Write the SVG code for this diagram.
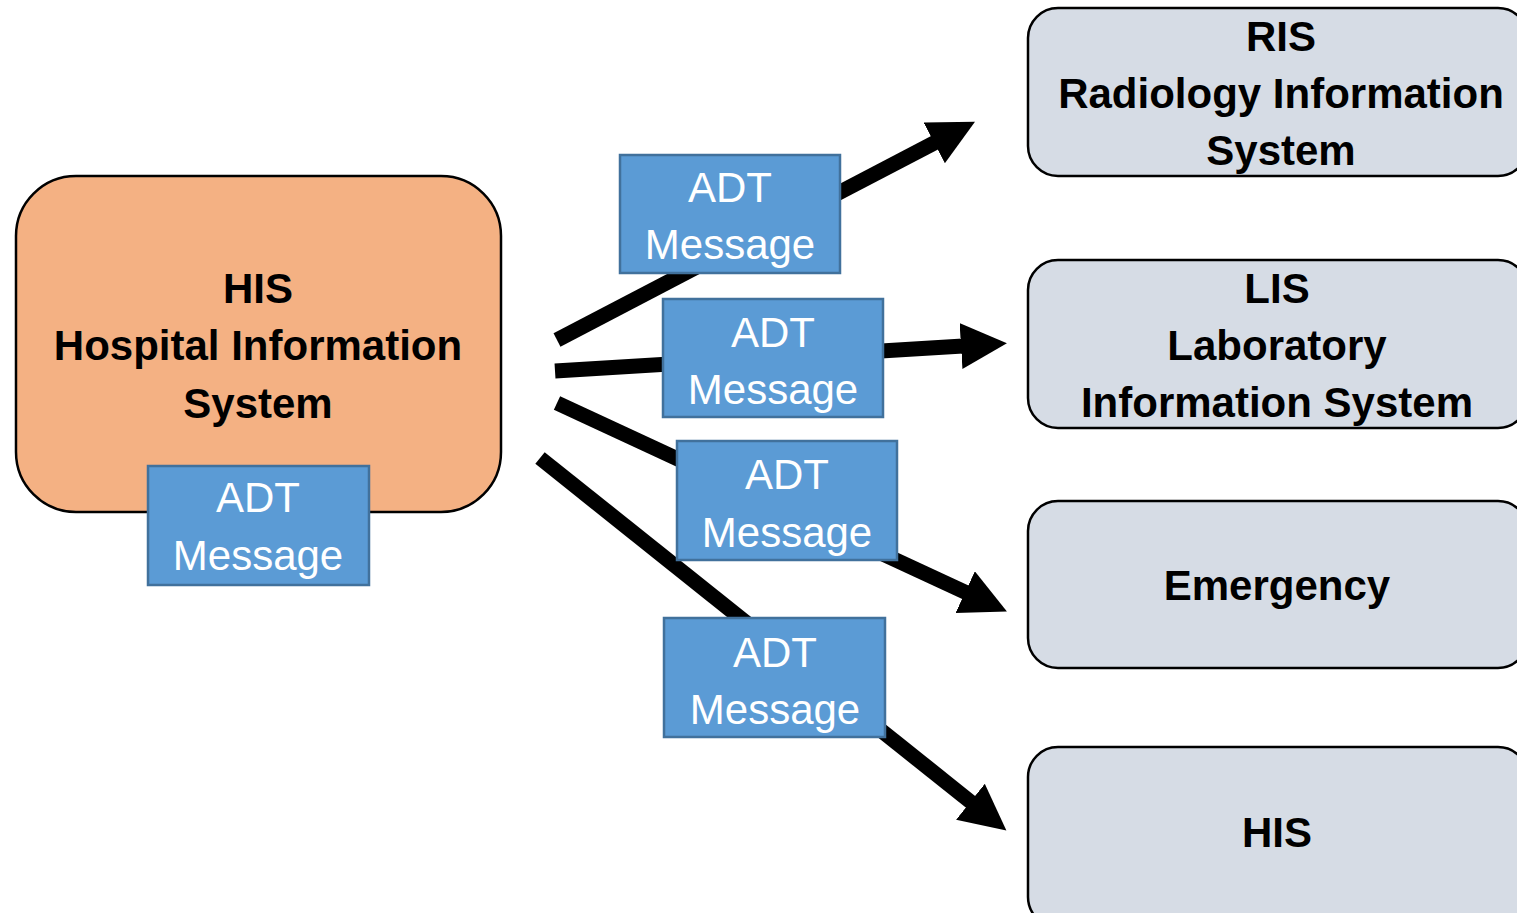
<svg xmlns="http://www.w3.org/2000/svg" width="1517" height="913" viewBox="0 0 1517 913">
<style>
.his{fill:#F4B183;stroke:#000;stroke-width:2.5}
.sys{fill:#D6DCE5;stroke:#000;stroke-width:2.5}
.msg{fill:#5B9BD5;stroke:#41719C;stroke-width:2.5}
.t{font-family:"Liberation Sans",Arial,sans-serif;font-size:42px;font-weight:bold;fill:#000;text-anchor:middle}
.m{font-family:"Liberation Sans",Arial,sans-serif;font-size:42px;fill:#fff;text-anchor:middle}
.c{stroke:#000;stroke-width:15;fill:none}
</style>
<defs>
<marker id="ah" markerUnits="userSpaceOnUse" markerWidth="48" markerHeight="48" refX="2" refY="23" orient="auto">
<path d="M0,0 L46,23 L0,46 z" fill="#000"/>
</marker>
</defs>
<g id="connectors">
<line class="c" x1="557" y1="340" x2="936" y2="142" marker-end="url(#ah)"/>
<line class="c" x1="555" y1="371" x2="963" y2="346" marker-end="url(#ah)"/>
<line class="c" x1="557" y1="403" x2="967" y2="593" marker-end="url(#ah)"/>
<line class="c" x1="540" y1="458" x2="972" y2="803" marker-end="url(#ah)"/>
</g>
<g id="his-main">
<rect class="his" x="16" y="176" width="485" height="336" rx="60"/>
<text class="t" x="258" y="303">HIS</text>
<text class="t" x="258" y="360">Hospital Information</text>
<text class="t" x="258" y="418">System</text>
</g>
<g id="msg-his">
<rect class="msg" x="148" y="466" width="221" height="119"/>
<text class="m" x="258" y="512">ADT</text>
<text class="m" x="258" y="570">Message</text>
</g>
<g id="ris">
<rect class="sys" x="1028" y="8" width="500" height="168" rx="30"/>
<text class="t" x="1281" y="51">RIS</text>
<text class="t" x="1281" y="108">Radiology Information</text>
<text class="t" x="1281" y="165">System</text>
</g>
<g id="lis">
<rect class="sys" x="1028" y="260" width="500" height="168" rx="30"/>
<text class="t" x="1277" y="303">LIS</text>
<text class="t" x="1277" y="360">Laboratory</text>
<text class="t" x="1277" y="417">Information System</text>
</g>
<g id="emergency">
<rect class="sys" x="1028" y="501" width="500" height="167" rx="30"/>
<text class="t" x="1277" y="600">Emergency</text>
</g>
<g id="his-dest">
<rect class="sys" x="1028" y="747" width="500" height="180" rx="30"/>
<text class="t" x="1277" y="847">HIS</text>
</g>
<g id="msg1">
<rect class="msg" x="620" y="155" width="220" height="118"/>
<text class="m" x="730" y="202">ADT</text>
<text class="m" x="730" y="259">Message</text>
</g>
<g id="msg2">
<rect class="msg" x="663" y="299" width="220" height="118"/>
<text class="m" x="773" y="347">ADT</text>
<text class="m" x="773" y="404">Message</text>
</g>
<g id="msg3">
<rect class="msg" x="677" y="441" width="220" height="119"/>
<text class="m" x="787" y="489">ADT</text>
<text class="m" x="787" y="547">Message</text>
</g>
<g id="msg4">
<rect class="msg" x="664" y="618" width="221" height="119"/>
<text class="m" x="775" y="667">ADT</text>
<text class="m" x="775" y="724">Message</text>
</g>
</svg>
